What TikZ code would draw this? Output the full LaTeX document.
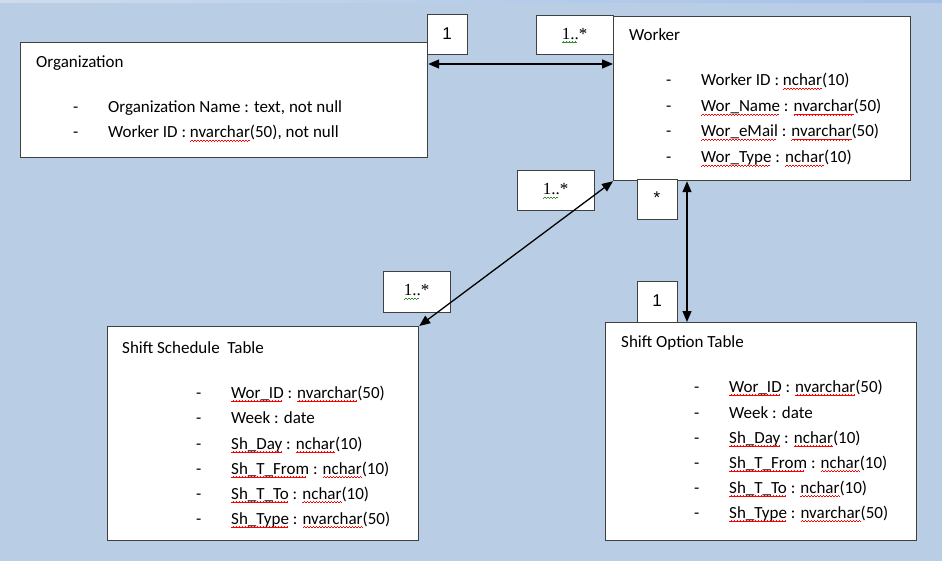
\documentclass[tikz,border=0pt]{standalone}
\usepackage{fontspec}
\setmainfont{Carlito}
\newfontfamily\serifnum{Liberation Serif}
\newfontfamily\arialnum{Liberation Sans}
\usetikzlibrary{arrows.meta}
\definecolor{bgblue}{HTML}{B9CDE5}
\definecolor{topblue}{HTML}{A4BFE8}
\definecolor{boxline}{HTML}{404040}
\definecolor{sqgreen}{HTML}{2E8B2E}
\newsavebox\sqbox
\newcommand\wave{\hbox{\rule[-3.6pt]{0.75pt}{0.6pt}\rule[-3.1pt]{0.75pt}{0.6pt}\rule[-2.6pt]{0.75pt}{0.6pt}\rule[-3.1pt]{0.75pt}{0.6pt}}}
\newcommand\redsq[1]{\sbox\sqbox{#1}\rlap{\hbox to\wd\sqbox{\color{red}\leaders\wave\hfill}}\usebox\sqbox}
\newcommand\greensq[1]{\sbox\sqbox{#1}\rlap{\hbox to\wd\sqbox{\color{sqgreen}\leaders\wave\hfill}}\usebox\sqbox}
\newcommand\dashgap{\makebox[35pt][l]{-}}

\tikzset{
  tbl/.style={draw=boxline, fill=white, line width=1.2pt, inner sep=0pt, anchor=north west},
  lbl/.style={draw=boxline, fill=white, line width=1pt, inner sep=0pt, minimum width=40pt, minimum height=40pt},
  row/.style={anchor=base west, inner sep=0pt, font=\fontsize{17pt}{20pt}\selectfont},
  arr/.style={{Triangle[length=11pt,width=9pt]}-{Triangle[length=11pt,width=9pt]}, line width=1.3pt}
}

\begin{document}
\begin{tikzpicture}[x=1pt, y=-1pt]
  \useasboundingbox (0,0) rectangle (942,561);
  \fill[bgblue] (0,0) rectangle (942,561);
  \shade[left color=bgblue!70!white, right color=topblue] (0,0) rectangle (942,3);

  % tables
  \node[tbl, minimum width=407pt, minimum height=115pt] (org) at (20,42) {};
  \node[tbl, minimum width=297pt, minimum height=164pt] (wk) at (613,16) {};
  \node[tbl, minimum width=311pt, minimum height=214pt] (ss) at (107,326) {};
  \node[tbl, minimum width=311pt, minimum height=218pt] (so) at (605,322) {};

  \node[row] (org0) at (36,68) {Organization};
  \node[row] (org1) at (73,113) {\dashgap Organization Name : text, not null};
  \node[row] (org2) at (73,138) {\dashgap Worker ID : \redsq{nvarchar}(50), not null};

  \node[row] (wk0) at (629,41) {Worker};
  \node[row] (wk1) at (666,86) {\dashgap Worker ID : \redsq{nchar}(10)};
  \node[row] (wk2) at (666,112) {\dashgap \redsq{Wor\_Name} : \redsq{nvarchar}(50)};
  \node[row] (wk3) at (666,137) {\dashgap \redsq{Wor\_eMail} : \redsq{nvarchar}(50)};
  \node[row] (wk4) at (666,163) {\dashgap \redsq{Wor\_Type} : \redsq{nchar}(10)};

  \node[row] (ss0) at (122,353) {Shift Schedule\ \ Table};
  \node[row] (ss1) at (196,398) {\dashgap \redsq{Wor\_ID} : \redsq{nvarchar}(50)};
  \node[row] (ss2) at (196,423) {\dashgap Week : date};
  \node[row] (ss3) at (196,449) {\dashgap \redsq{Sh\_Day} : \redsq{nchar}(10)};
  \node[row] (ss4) at (196,474) {\dashgap \redsq{Sh\_T\_From} : \redsq{nchar}(10)};
  \node[row] (ss5) at (196,499) {\dashgap \redsq{Sh\_T\_To} : \redsq{nchar}(10)};
  \node[row] (ss6) at (196,524) {\dashgap \redsq{Sh\_Type} : \redsq{nvarchar}(50)};

  \node[row] (so0) at (621,347) {Shift Option Table};
  \node[row] (so1) at (694,392) {\dashgap \redsq{Wor\_ID} : \redsq{nvarchar}(50)};
  \node[row] (so2) at (694,418) {\dashgap Week : date};
  \node[row] (so3) at (694,443) {\dashgap \redsq{Sh\_Day} : \redsq{nchar}(10)};
  \node[row] (so4) at (694,468) {\dashgap \redsq{Sh\_T\_From} : \redsq{nchar}(10)};
  \node[row] (so5) at (694,493) {\dashgap \redsq{Sh\_T\_To} : \redsq{nchar}(10)};
  \node[row] (so6) at (694,518) {\dashgap \redsq{Sh\_Type} : \redsq{nvarchar}(50)};

  % multiplicities
  \node[lbl, font=\arialnum\fontsize{17pt}{17pt}\selectfont] (one1) at (447,35) {\raisebox{2pt}{1}};
  \node[lbl, minimum width=77pt, minimum height=39pt, font=\serifnum\fontsize{17pt}{17pt}\selectfont] (many1) at (574.5,35.5) {\greensq{1..}*};
  \node[lbl, minimum width=77pt, font=\serifnum\fontsize{17pt}{17pt}\selectfont] (many2) at (555.5,191) {\greensq{1..}*};
  \node[lbl, font=\arialnum\fontsize{17pt}{17pt}\selectfont] (star) at (657,200) {\raisebox{4pt}{*}};
  \node[lbl, font=\arialnum\fontsize{17pt}{17pt}\selectfont] (one2) at (657,302) {\raisebox{2pt}{1}};
  \node[lbl, minimum width=67pt, font=\serifnum\fontsize{17pt}{17pt}\selectfont] (many3) at (416.5,292) {\greensq{1..}*};

  % relations
  \draw[arr] ([yshift=-22pt]org.north east) -- ([yshift=-48pt]wk.north west);
  \draw[arr] (ss.north east) -- (wk.south west);
  \draw[arr] ([xshift=74pt]wk.south west) -- ([xshift=82pt]so.north west);
\end{tikzpicture}
\end{document}
